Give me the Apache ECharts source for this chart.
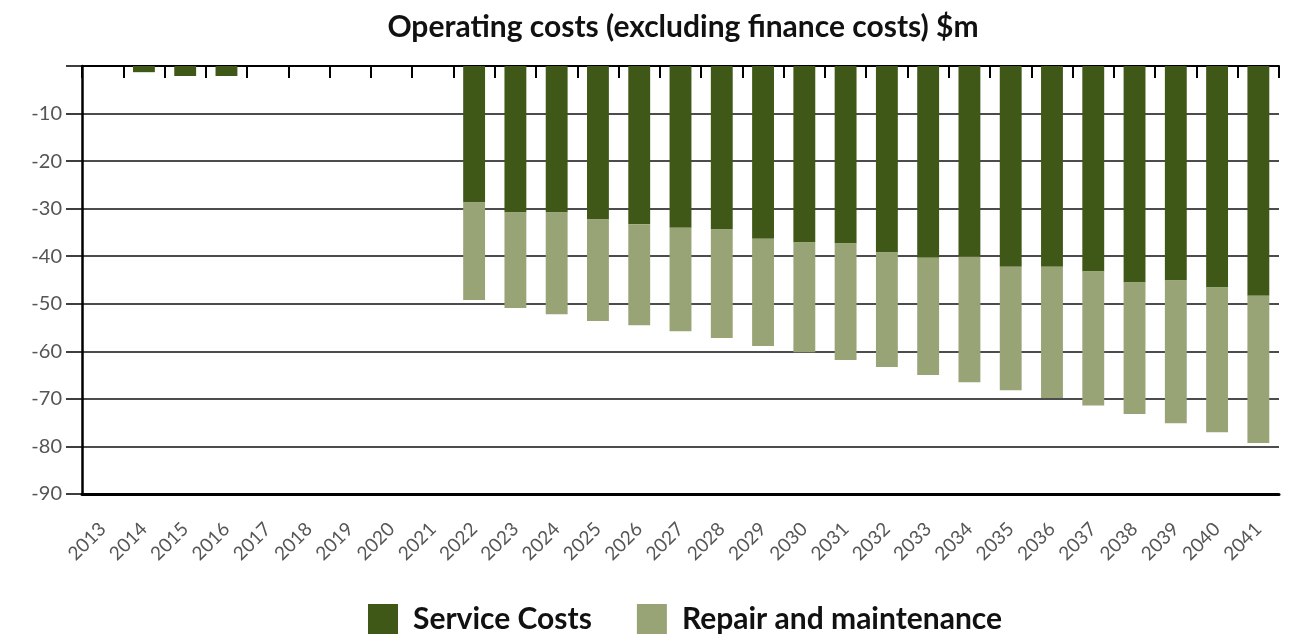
<!DOCTYPE html>
<html lang="en">
<head>
    <meta charset="UTF-8">
    <title>Operating costs</title>
    <style>
        html, body { margin: 0; padding: 0; background: #fff; }
    </style>
</head>
<body>
<div id="container" style="width: 1297px; height: 636px"></div>
<script src="https://cdn.jsdelivr.net/npm/echarts@6/dist/echarts.min.js"></script>
<script type="text/javascript">
    // chart data, $m (negative = cost)
    var years = ['2013','2014','2015','2016','2017','2018','2019','2020','2021','2022','2023','2024','2025','2026',
        '2027','2028','2029','2030','2031','2032','2033','2034','2035','2036','2037','2038','2039','2040','2041'];
    var serviceCosts = [0, -1.3, -2.1, -2.1, 0, 0, 0, 0, 0, -28.7, -30.8, -30.8, -32.3, -33.3,
        -34.0, -34.4, -36.3, -37.1, -37.3, -39.2, -40.3, -40.1, -42.2, -42.2, -43.2, -45.5, -45.1, -46.6, -48.3];
    var repairMaintenance = [0, 0, 0, 0, 0, 0, 0, 0, 0, -20.5, -20.1, -21.4, -21.3, -21.2,
        -21.8, -22.8, -22.6, -23.1, -24.5, -24.1, -24.7, -26.4, -26.0, -27.6, -28.2, -27.7, -30.0, -30.4, -31.0];
    var yTicks = [0, -10, -20, -30, -40, -50, -60, -70, -80, -90];

    var chart = echarts.init(document.getElementById('container'));
    var option = {
        animation: false,
        title: {
            text: 'Operating costs (excluding finance costs) $m',
            left: 678,
            top: 7,
            textAlign: 'center',
            textStyle: { fontFamily: 'Lato', fontWeight: 'bold', fontSize: 30, color: '#111' }
        },
        legend: {
            top: 599,
            left: 363,
            itemWidth: 30,
            itemHeight: 30,
            itemGap: 45,
            icon: 'rect',
            textStyle: { fontFamily: 'Lato', fontWeight: 'bold', fontSize: 30, color: '#111', padding: [0, 0, 0, 10] },
            data: ['Service Costs', 'Repair and maintenance']
        },
        grid: { left: 82, right: 18, top: 66, bottom: 142 },
        xAxis: [
            {
                type: 'category',
                data: years,
                position: 'bottom',
                axisLine: { onZero: false, lineStyle: { color: '#000', width: 3 } },
                axisTick: { show: false },
                axisLabel: { rotate: 45, margin: 32, fontFamily: 'Lato', fontSize: 19, color: '#555' }
            },
            {
                type: 'category',
                data: years,
                position: 'top',
                axisLine: { onZero: false, lineStyle: { color: '#000', width: 2 } },
                axisTick: { show: true, inside: true, length: 12, lineStyle: { color: '#000', width: 2 } },
                axisLabel: { show: false }
            }
        ],
        yAxis: {
            type: 'value',
            min: yTicks[yTicks.length - 1],
            max: yTicks[0],
            interval: 10,
            axisLine: { show: true, lineStyle: { color: '#000', width: 2.5 } },
            axisTick: { show: true, length: 16, lineStyle: { color: '#000', width: 1.5 } },
            axisLabel: {
                margin: 20,
                fontFamily: 'Lato', fontSize: 20, color: '#555',
                formatter: function (v) { return v === 0 ? '' : String(v); }
            },
            splitLine: { show: true, lineStyle: { color: '#111', width: 1.5 } }
        },
        series: [
            {
                name: 'Service Costs',
                type: 'bar',
                stack: 'costs',
                xAxisIndex: 0,
                barWidth: '53%',
                itemStyle: { color: '#3f5817' },
                data: serviceCosts
            },
            {
                name: 'Repair and maintenance',
                type: 'bar',
                stack: 'costs',
                xAxisIndex: 0,
                barWidth: '53%',
                itemStyle: { color: '#98a476' },
                data: repairMaintenance
            }
        ]
    };
    chart.setOption(option);
</script>
</body>
</html>
